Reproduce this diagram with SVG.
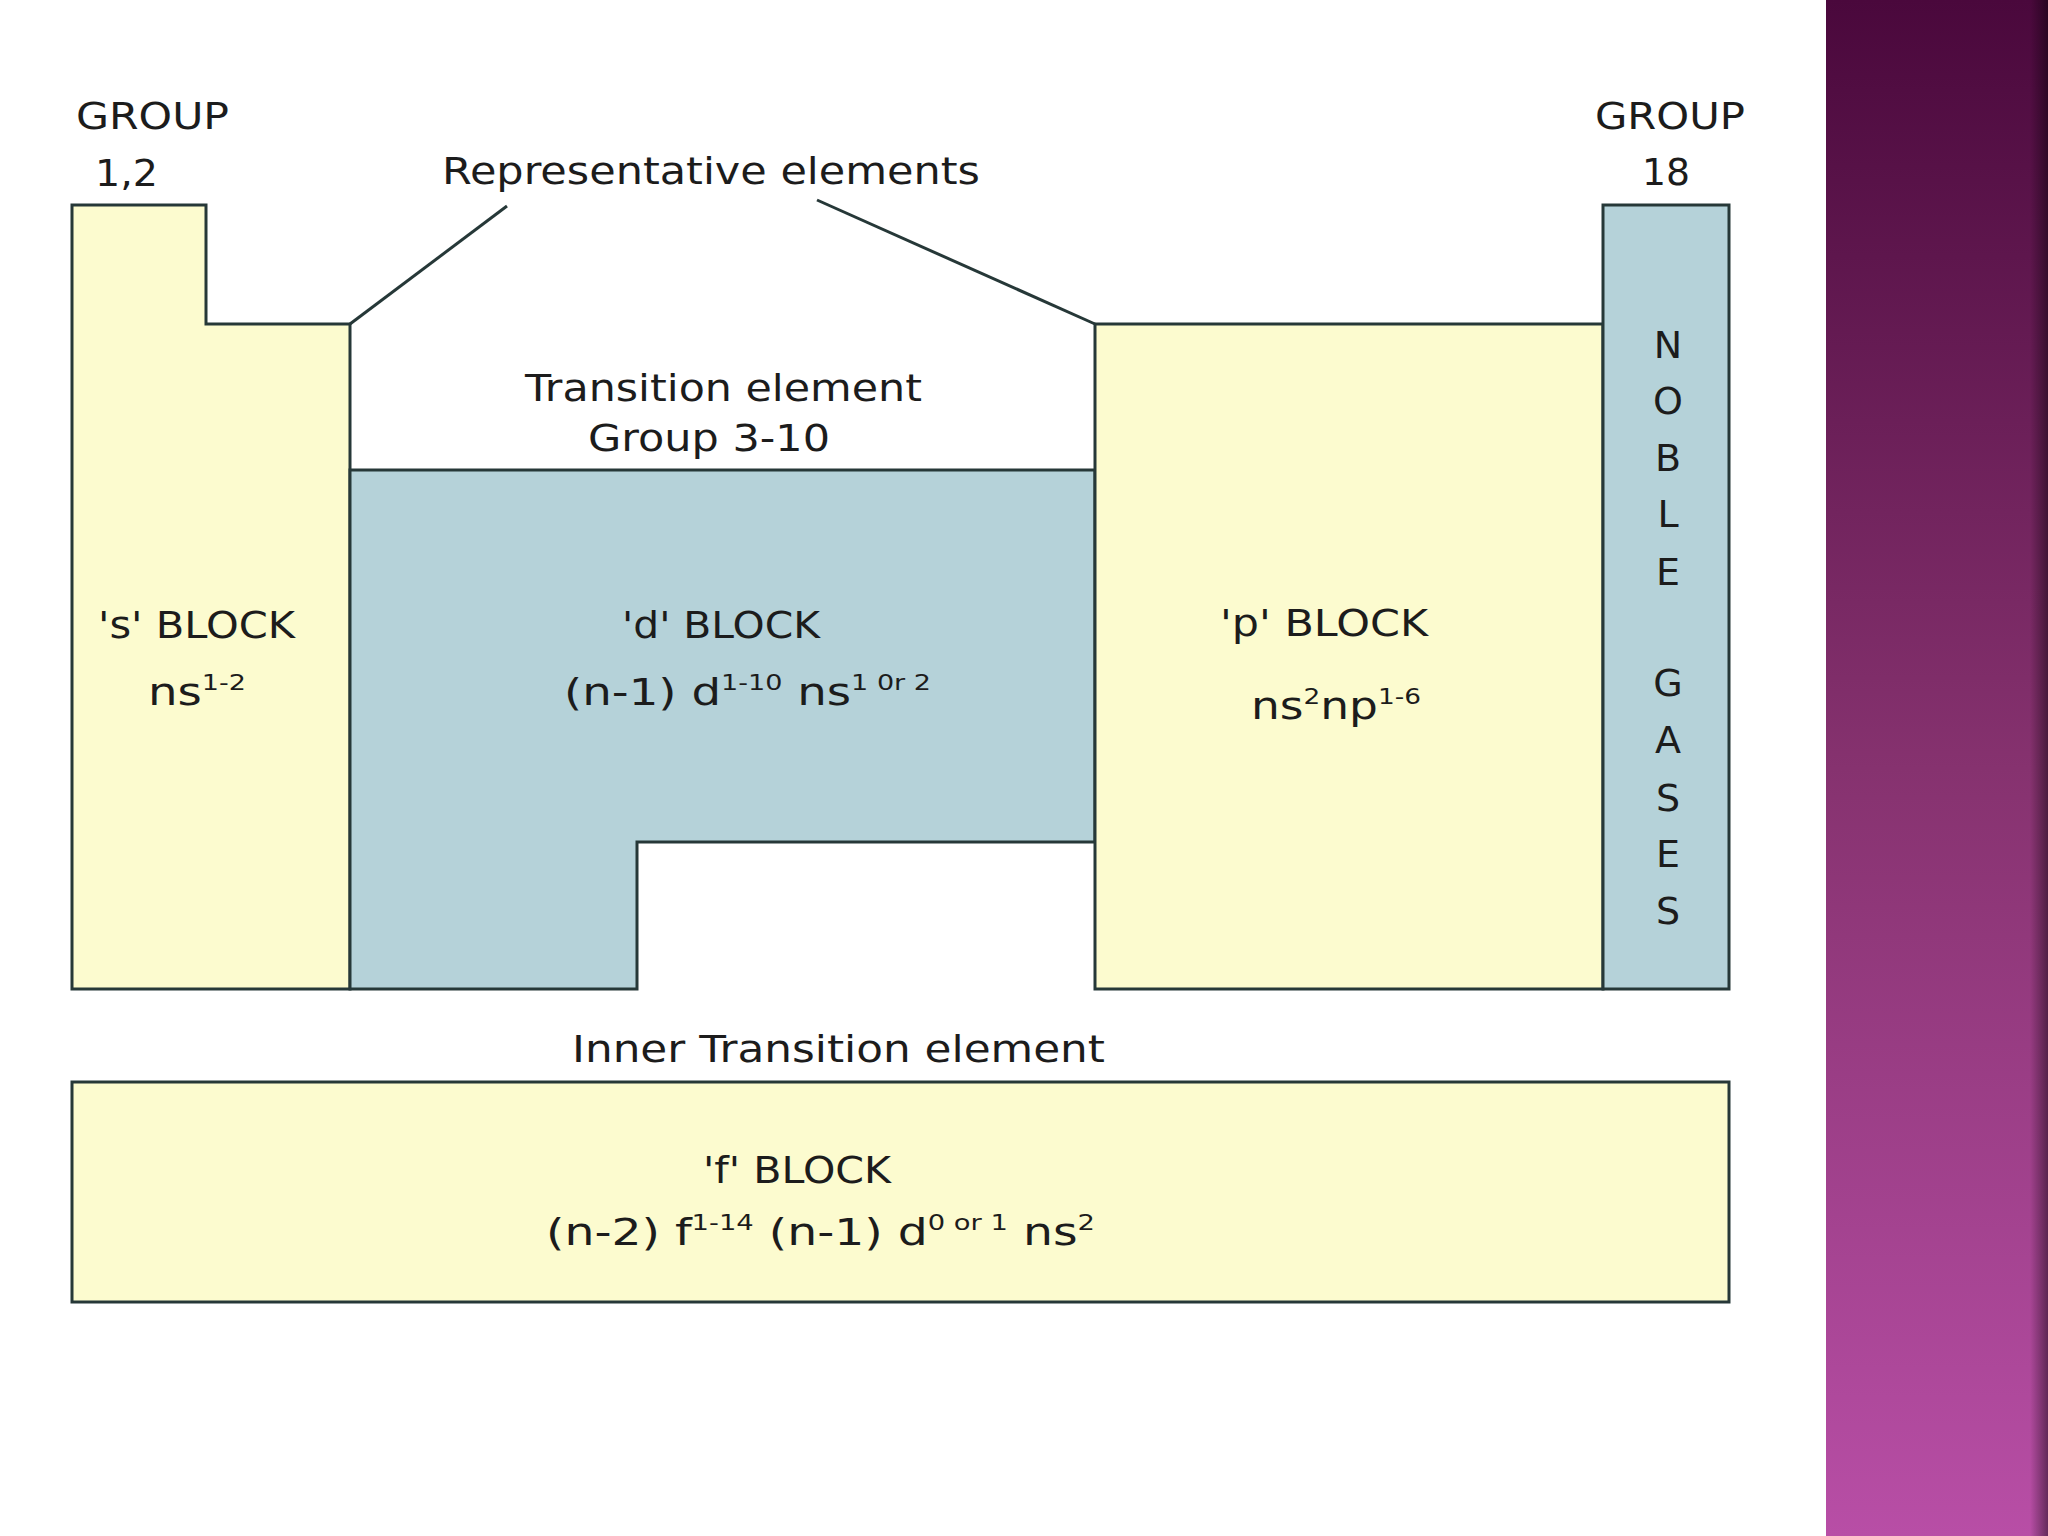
<svg xmlns="http://www.w3.org/2000/svg" width="2048" height="1536" viewBox="0 0 2048 1536">
  <defs>
    <linearGradient id="bar" x1="0" y1="0" x2="0" y2="1">
      <stop offset="0" stop-color="#4a083c"/>
      <stop offset="0.5" stop-color="#86326f"/>
      <stop offset="1" stop-color="#b84ea6"/>
    </linearGradient>
    <linearGradient id="barEdge" x1="0" y1="0" x2="1" y2="0">
      <stop offset="0" stop-color="#000" stop-opacity="0"/>
      <stop offset="1" stop-color="#000" stop-opacity="0.45"/>
    </linearGradient>
    <style>
      .blk { stroke: #263838; stroke-width: 3; stroke-linejoin: miter; }
      .yel { fill: #fcfbcf; }
      .blu { fill: #b5d2d9; }
      .t { font-family: "DejaVu Sans", Verdana, sans-serif; font-size: 38px; fill: #1c1c1c; }
      .sup { font-size: 22px; }
      .ng { font-family: "DejaVu Sans", Verdana, sans-serif; font-size: 38px; fill: #1c1c1c; text-anchor: middle; }
      .conn { stroke: #263838; stroke-width: 3; fill: none; }
    </style>
  </defs>

  <rect x="0" y="0" width="2048" height="1536" fill="#ffffff"/>

  <g id="side-bar">
    <rect x="1826" y="0" width="222" height="1536" fill="url(#bar)"/>
    <rect x="2030" y="0" width="18" height="1536" fill="url(#barEdge)"/>
  </g>

  <g id="s-block">
    <path class="blk yel" d="M72,205 H206 V324 H350 V989 H72 Z"/>
    <text class="t" x="98" y="638" textLength="197" lengthAdjust="spacingAndGlyphs">'s' BLOCK</text>
    <text class="t" x="148" y="705" textLength="98" lengthAdjust="spacingAndGlyphs">ns<tspan class="sup" dy="-15">1-2</tspan></text>
  </g>

  <g id="d-block">
    <path class="blk blu" d="M350,470 H1095 V842 H637 V989 H350 Z"/>
    <text class="t" x="622" y="638" textLength="198" lengthAdjust="spacingAndGlyphs">'d' BLOCK</text>
    <text class="t" x="564" y="705" textLength="367" lengthAdjust="spacingAndGlyphs">(n-1) d<tspan class="sup" dy="-15">1-10</tspan><tspan dy="15"> ns</tspan><tspan class="sup" dy="-15">1 0r 2</tspan></text>
  </g>

  <g id="p-block">
    <path class="blk yel" d="M1095,324 H1603 V989 H1095 Z"/>
    <text class="t" x="1220" y="636" textLength="208" lengthAdjust="spacingAndGlyphs">'p' BLOCK</text>
    <text class="t" x="1251" y="719" textLength="170" lengthAdjust="spacingAndGlyphs">ns<tspan class="sup" dy="-15">2</tspan><tspan dy="15">np</tspan><tspan class="sup" dy="-15">1-6</tspan></text>
  </g>

  <g id="noble-gases">
    <path class="blk blu" d="M1603,205 H1729 V989 H1603 Z"/>
    <text class="ng" x="1668" y="358">N</text>
    <text class="ng" x="1668" y="414">O</text>
    <text class="ng" x="1668" y="471">B</text>
    <text class="ng" x="1668" y="527">L</text>
    <text class="ng" x="1668" y="585">E</text>
    <text class="ng" x="1668" y="696">G</text>
    <text class="ng" x="1668" y="753">A</text>
    <text class="ng" x="1668" y="811">S</text>
    <text class="ng" x="1668" y="867">E</text>
    <text class="ng" x="1668" y="924">S</text>
  </g>

  <g id="f-block">
    <rect class="blk yel" x="72" y="1082" width="1657" height="220"/>
    <text class="t" x="703" y="1183" textLength="188" lengthAdjust="spacingAndGlyphs">'f' BLOCK</text>
    <text class="t" x="546" y="1245" textLength="549" lengthAdjust="spacingAndGlyphs">(n-2) f<tspan class="sup" dy="-15">1-14</tspan><tspan dy="15"> (n-1) d</tspan><tspan class="sup" dy="-15">0 or 1</tspan><tspan dy="15"> ns</tspan><tspan class="sup" dy="-15">2</tspan></text>
  </g>

  <g id="label-group-1-2">
    <text class="t" x="76" y="129" textLength="153" lengthAdjust="spacingAndGlyphs">GROUP</text>
    <text class="t" x="95" y="186" textLength="63" lengthAdjust="spacingAndGlyphs">1,2</text>
  </g>

  <g id="label-group-18">
    <text class="t" x="1595" y="129" textLength="150" lengthAdjust="spacingAndGlyphs">GROUP</text>
    <text class="t" x="1642" y="185" textLength="48" lengthAdjust="spacingAndGlyphs">18</text>
  </g>

  <g id="label-representative">
    <text class="t" x="442" y="184" textLength="538" lengthAdjust="spacingAndGlyphs">Representative  elements</text>
  </g>

  <g id="label-transition">
    <text class="t" x="525" y="401" textLength="397" lengthAdjust="spacingAndGlyphs">Transition element</text>
    <text class="t" x="588" y="451" textLength="242" lengthAdjust="spacingAndGlyphs">Group 3-10</text>
  </g>

  <g id="label-inner-transition">
    <text class="t" x="572" y="1062" textLength="533" lengthAdjust="spacingAndGlyphs">Inner Transition element</text>
  </g>

  <g id="connectors">
    <line class="conn" x1="350" y1="324" x2="507" y2="206"/>
    <line class="conn" x1="817" y1="200" x2="1095" y2="324"/>
  </g>
</svg>
